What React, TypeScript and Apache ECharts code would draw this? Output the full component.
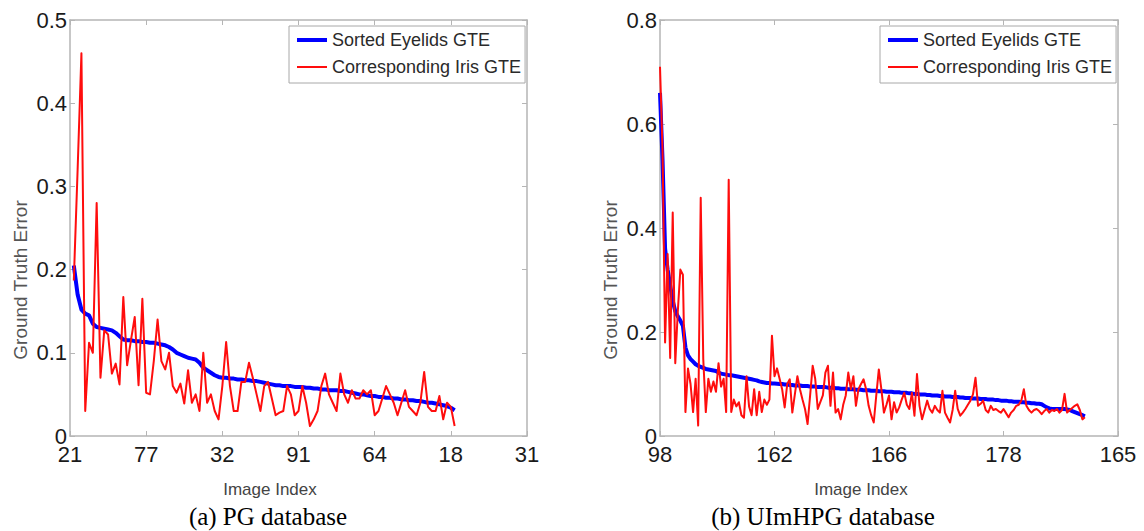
import React, { useEffect, useRef } from "react";
import * as echarts from "echarts";

const seriesNames = ["Sorted Eyelids GTE", "Corresponding Iris GTE"];
const captions = ["(a) PG database", "(b) UImHPG database"];
const axisNameY = "Ground Truth Error";
const axisNameX = "Image Index";

// (a) PG database
const pgXTickLabels = ["21", "77", "32", "91", "64", "18", "31"];
const pgYMax = 0.5;
const pgYStep = 0.1;
const pgEyelids = [
  0.205, 0.17, 0.152, 0.147, 0.145, 0.135, 0.131, 0.13, 0.129, 0.128,
  0.127, 0.124, 0.12, 0.116, 0.115, 0.115, 0.114, 0.114, 0.113, 0.113,
  0.112, 0.112, 0.111, 0.11, 0.109, 0.107, 0.104, 0.1, 0.098, 0.096,
  0.094, 0.093, 0.092, 0.088, 0.082, 0.079, 0.076, 0.073, 0.071, 0.07,
  0.07, 0.069, 0.069, 0.068, 0.068, 0.067, 0.067, 0.066, 0.066, 0.065,
  0.064, 0.063, 0.062, 0.061, 0.061, 0.06, 0.06, 0.06, 0.059, 0.059,
  0.059, 0.058, 0.058, 0.057, 0.057, 0.056, 0.056, 0.055, 0.055, 0.055,
  0.054, 0.054, 0.053, 0.052, 0.051, 0.05, 0.05, 0.049, 0.048, 0.048,
  0.047, 0.047, 0.046, 0.046, 0.045, 0.045, 0.044, 0.044, 0.043, 0.043,
  0.042, 0.042, 0.041, 0.04, 0.04, 0.039, 0.038, 0.037, 0.036, 0.034,
  0.031,
];
const pgIris = [
  0.187, 0.32, 0.46, 0.03, 0.112, 0.1, 0.28, 0.07, 0.127, 0.122,
  0.075, 0.087, 0.062, 0.167, 0.085, 0.115, 0.143, 0.061, 0.165, 0.052,
  0.05, 0.09, 0.14, 0.09, 0.08, 0.1, 0.06, 0.052, 0.063, 0.039,
  0.079, 0.04, 0.05, 0.03, 0.1, 0.04, 0.05, 0.03, 0.02, 0.06,
  0.113, 0.06, 0.03, 0.03, 0.065, 0.065, 0.088, 0.07, 0.05, 0.03,
  0.06, 0.065, 0.045, 0.025, 0.028, 0.03, 0.06, 0.05, 0.025, 0.03,
  0.06, 0.04, 0.012, 0.02, 0.03, 0.06, 0.075, 0.05, 0.04, 0.03,
  0.075, 0.05, 0.04, 0.055, 0.045, 0.045, 0.055, 0.05, 0.055, 0.025,
  0.03, 0.045, 0.06, 0.05, 0.04, 0.025, 0.04, 0.055, 0.035, 0.03,
  0.025, 0.04, 0.077, 0.035, 0.03, 0.03, 0.048, 0.02, 0.04, 0.035,
  0.012,
];

// (b) UImHPG database
const uimXTickLabels = ["98", "162", "166", "178", "165"];
const uimYMax = 0.8;
const uimYStep = 0.2;
const uimEyelids = [
  0.66, 0.53, 0.36, 0.32, 0.29, 0.26, 0.24, 0.23, 0.222, 0.212,
  0.17, 0.155, 0.148, 0.143, 0.138, 0.135, 0.133, 0.131, 0.129, 0.128,
  0.127, 0.126, 0.125, 0.122, 0.12, 0.119, 0.118, 0.117, 0.117, 0.116,
  0.115, 0.114, 0.113, 0.112, 0.111, 0.11, 0.109, 0.108, 0.107, 0.105,
  0.104, 0.103, 0.102, 0.102, 0.101, 0.101, 0.1005, 0.1, 0.1, 0.099,
  0.099, 0.098, 0.098, 0.097, 0.097, 0.097, 0.096, 0.096, 0.096, 0.095,
  0.095, 0.095, 0.094, 0.094, 0.094, 0.094, 0.093, 0.093, 0.093, 0.092,
  0.092, 0.091, 0.091, 0.091, 0.09, 0.09, 0.09, 0.089, 0.089, 0.089,
  0.088, 0.088, 0.088, 0.087, 0.087, 0.087, 0.086, 0.086, 0.086, 0.085,
  0.085, 0.085, 0.084, 0.084, 0.084, 0.083, 0.083, 0.083, 0.082, 0.082,
  0.081, 0.081, 0.08, 0.08, 0.08, 0.079, 0.079, 0.078, 0.078, 0.078,
  0.077, 0.077, 0.076, 0.076, 0.076, 0.075, 0.075, 0.075, 0.074, 0.074,
  0.073, 0.073, 0.073, 0.072, 0.072, 0.072, 0.071, 0.071, 0.071, 0.07,
  0.07, 0.07, 0.069, 0.069, 0.068, 0.068, 0.068, 0.067, 0.067, 0.066,
  0.066, 0.066, 0.065, 0.065, 0.064, 0.064, 0.063, 0.063, 0.062, 0.062,
  0.061, 0.058, 0.055, 0.053, 0.052, 0.052, 0.052, 0.052, 0.052, 0.052,
  0.051, 0.05, 0.048, 0.046, 0.044, 0.042, 0.04, 0.038,
];
const uimIris = [
  0.71, 0.55, 0.18, 0.35, 0.15, 0.43, 0.14, 0.24, 0.32, 0.31,
  0.046, 0.13, 0.1, 0.046, 0.11, 0.02, 0.458, 0.148, 0.046, 0.11,
  0.085, 0.105, 0.085, 0.14, 0.095, 0.11, 0.046, 0.493, 0.046, 0.07,
  0.057, 0.065, 0.04, 0.035, 0.115, 0.057, 0.04, 0.09, 0.04, 0.085,
  0.046, 0.07, 0.06, 0.07, 0.193, 0.115, 0.13, 0.11, 0.09, 0.055,
  0.1, 0.109, 0.045, 0.08, 0.115, 0.09, 0.07, 0.052, 0.023, 0.078,
  0.135, 0.11, 0.052, 0.065, 0.078, 0.122, 0.135, 0.058, 0.122, 0.045,
  0.052, 0.032, 0.06, 0.078, 0.122, 0.09, 0.115, 0.058, 0.09, 0.1,
  0.109, 0.09, 0.058, 0.04, 0.026, 0.078, 0.128, 0.09, 0.045, 0.06,
  0.078, 0.032, 0.065, 0.045, 0.055, 0.07, 0.083, 0.06, 0.052, 0.083,
  0.039, 0.119, 0.058, 0.032, 0.05, 0.068, 0.052, 0.045, 0.058, 0.05,
  0.045, 0.087, 0.045, 0.035, 0.026, 0.05, 0.087, 0.052, 0.039, 0.045,
  0.052, 0.06, 0.068, 0.08, 0.112, 0.058, 0.062, 0.068, 0.05, 0.045,
  0.058, 0.05, 0.052, 0.048, 0.045, 0.052, 0.044, 0.036, 0.045, 0.05,
  0.058, 0.06, 0.068, 0.09, 0.058, 0.05, 0.045, 0.05, 0.052, 0.048,
  0.042, 0.048, 0.052, 0.045, 0.05, 0.048, 0.052, 0.045, 0.05, 0.081,
  0.045, 0.05, 0.054, 0.058, 0.061, 0.05, 0.032, 0.036,
];

const PG_STEP = 20; // image ranks per x tick
const UIM_STEP = 45;
const PG_OFFSET = 1; // first image rank
const UIM_OFFSET = 0;

const SANS = "Liberation Sans";
const FRAME = "#b5b5b5";
const BLUE = "#0000ff";
const RED = "#ff0d0d";

const toPairs = (arr: number[], offset: number) => arr.map((v, i) => [i + offset, v]);

function makeXAxes(gridIndex: number, labels: string[], step: number) {
  const max = step * (labels.length - 1);
  const base = {
    type: "value",
    gridIndex,
    min: 0,
    max,
    interval: step,
    splitLine: { show: false },
    axisLine: { show: true, onZero: false, lineStyle: { color: FRAME, width: 1.5 } },
    axisTick: { show: true, inside: true, length: 5, lineStyle: { color: FRAME, width: 1 } },
  };
  return [
    {
      ...base,
      position: "bottom",
      axisLabel: {
        show: true,
        color: "#1a1a1a",
        fontSize: 22,
        fontFamily: SANS,
        margin: 7,
        showMinLabel: true,
        showMaxLabel: true,
        formatter: (v: number) => labels[Math.round(v / step)] ?? "",
      },
    },
    { ...base, position: "top", axisLabel: { show: false } },
  ];
}

function makeYAxes(gridIndex: number, max: number, step: number) {
  const base = {
    type: "value",
    gridIndex,
    min: 0,
    max,
    interval: step,
    splitLine: { show: false },
    axisLine: { show: true, onZero: false, lineStyle: { color: FRAME, width: 1.5 } },
    axisTick: { show: true, inside: true, length: 5, lineStyle: { color: FRAME, width: 1 } },
  };
  return [
    {
      ...base,
      position: "left",
      axisLabel: {
        show: true,
        color: "#1a1a1a",
        fontSize: 22,
        fontFamily: SANS,
        margin: 3,
        showMinLabel: true,
        showMaxLabel: true,
        formatter: (v: number) => (v === 0 ? "0" : v.toFixed(1)),
      },
    },
    { ...base, position: "right", axisLabel: { show: false } },
  ];
}

function makeLegend(left: number) {
  return {
    left,
    top: 26,
    orient: "vertical",
    selectedMode: false,
    data: [
      { name: seriesNames[0], lineStyle: { width: 4, color: BLUE }, itemStyle: { opacity: 0 } },
      { name: seriesNames[1], lineStyle: { width: 2, color: RED }, itemStyle: { opacity: 0 } },
    ],
    itemStyle: { opacity: 0 },
    itemWidth: 30,
    itemHeight: 2,
    itemGap: 9,
    padding: [5, 4, 7, 6],
    borderColor: "#a8a8a8",
    borderWidth: 1,
    backgroundColor: "#ffffff",
    textStyle: { fontSize: 18, fontFamily: SANS, color: "#2a2a2a" },
  };
}

function lineSeries(name: string, axisIndex: number, data: number[][], color: string, width: number, z: number) {
  return {
    type: "line",
    name,
    xAxisIndex: axisIndex,
    yAxisIndex: axisIndex,
    data,
    symbol: "none",
    showSymbol: false,
    lineStyle: { color, width, join: "round" },
    itemStyle: { color },
    z,
  };
}

function text(x: number, y: number, str: string, font: string, fill: string, rotation = 0) {
  return {
    type: "text",
    x,
    y,
    rotation,
    silent: true,
    style: {
      text: str,
      font,
      fill,
      textAlign: "center",
      textVerticalAlign: "middle",
      align: "center",
      verticalAlign: "middle",
    },
  };
}

export default function App() {
  const ref = useRef<HTMLDivElement>(null);

  useEffect(() => {
    document.body.style.margin = "0";
    if (!ref.current) return;
    const chart = echarts.init(ref.current, null, { renderer: "svg" });
    const option = {
      animation: false,
      backgroundColor: "#ffffff",
      textStyle: { fontFamily: SANS },
      grid: [
        { left: 70, top: 20, width: 457, height: 416 },
        { left: 660, top: 20, width: 458, height: 416 },
      ],
      xAxis: [...makeXAxes(0, pgXTickLabels, PG_STEP), ...makeXAxes(1, uimXTickLabels, UIM_STEP)],
      yAxis: [...makeYAxes(0, pgYMax, pgYStep), ...makeYAxes(1, uimYMax, uimYStep)],
      legend: [makeLegend(289), makeLegend(880)],
      series: [
        lineSeries(seriesNames[0], 0, toPairs(pgEyelids, PG_OFFSET), BLUE, 4, 2),
        lineSeries(seriesNames[1], 0, toPairs(pgIris, PG_OFFSET), RED, 2, 3),
        lineSeries(seriesNames[0], 2, toPairs(uimEyelids, UIM_OFFSET), BLUE, 4, 2),
        lineSeries(seriesNames[1], 2, toPairs(uimIris, UIM_OFFSET), RED, 2, 3),
      ],
      graphic: [
        text(20, 280, axisNameY, `19px "${SANS}"`, "#555555", Math.PI / 2),
        text(610, 280, axisNameY, `19px "${SANS}"`, "#555555", Math.PI / 2),
        text(270, 489, axisNameX, `17px "${SANS}"`, "#444444"),
        text(861, 489, axisNameX, `17px "${SANS}"`, "#444444"),
        text(268, 516, captions[0], `25px "Liberation Serif"`, "#000000"),
        text(823, 516, captions[1], `25px "Liberation Serif"`, "#000000"),
      ],
    };
    chart.setOption(option as any);
    return () => chart.dispose();
  }, []);

  return (
    <div
      ref={ref}
      style={{ position: "fixed", left: 0, top: 0, width: 1144, height: 531, background: "#fff" }}
    />
  );
}
